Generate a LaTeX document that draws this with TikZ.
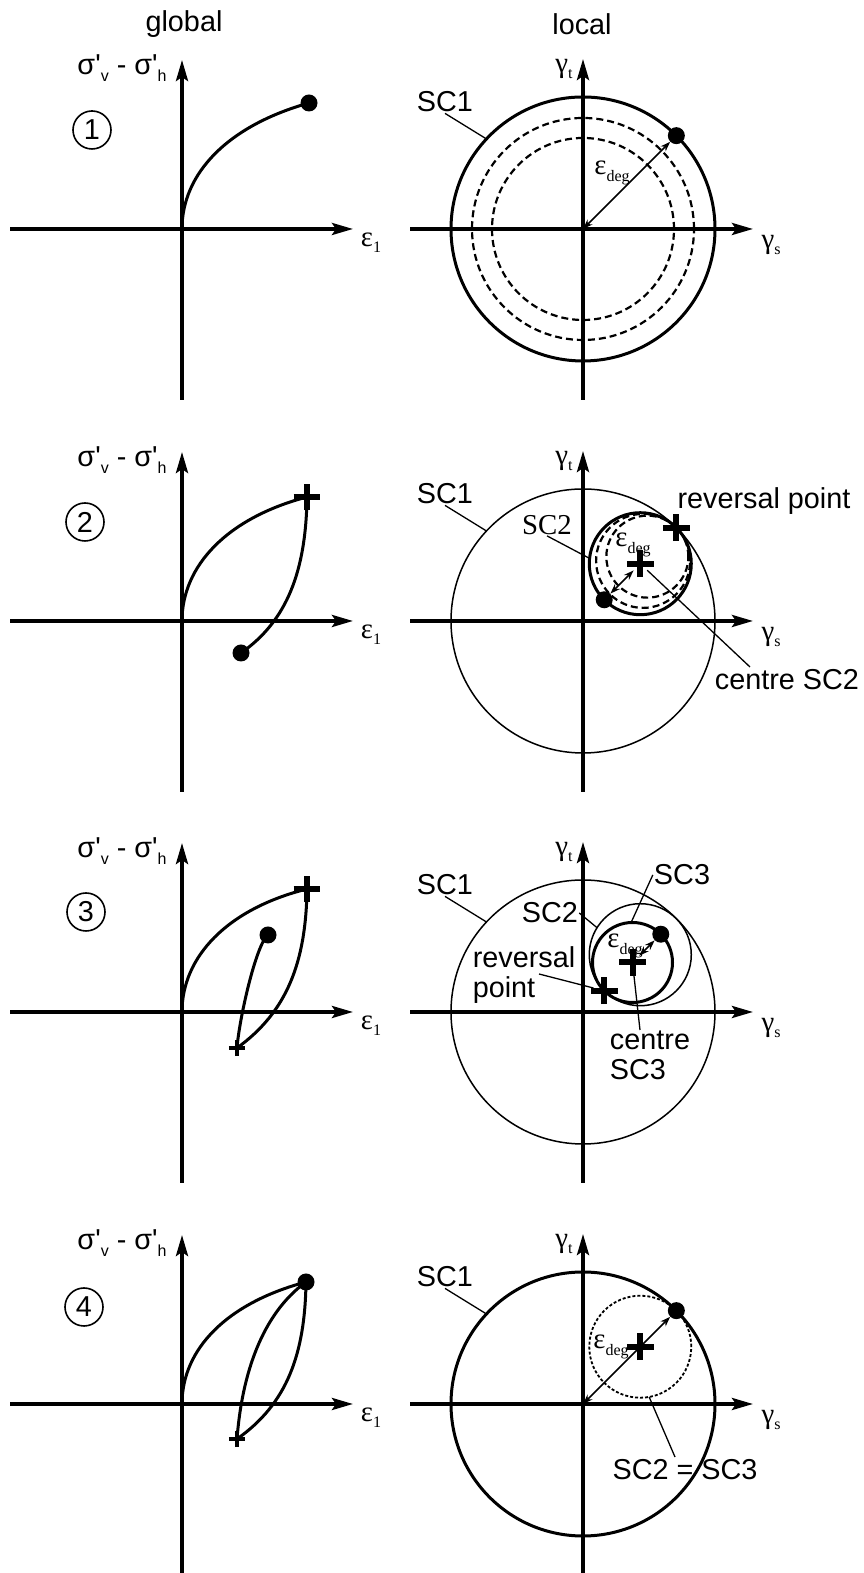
\documentclass[tikz,border=0pt]{standalone}
\usepackage{fontspec}
\setmainfont{Liberation Sans}
\newfontfamily\serifgr{Liberation Serif}
\newfontfamily\plainsans{Liberation Sans}
\usetikzlibrary{arrows.meta,shapes.misc}

\newcommand{\lowsub}[1]{\raisebox{-0.22em}{\fontsize{16}{16}\selectfont #1}}

\begin{document}
\begin{tikzpicture}[
    x=1pt, y=1pt,
    lbl/.style={font=\fontsize{28.8}{30}\selectfont, inner sep=1pt},
    sym/.style={font=\fontsize{28.8}{30}\selectfont\serifgr, inner sep=1pt},
    axis/.style={line width=3.6pt, -{Stealth[length=21pt, width=12pt, inset=4pt]}},
    curve/.style={line width=3pt},
    circ/.style={line width=1.5pt},
    boldcirc/.style={line width=3pt},
    dashc/.style={line width=2.2pt, dash pattern=on 7pt off 4pt},
    dotc/.style={line width=1.8pt, dash pattern=on 3pt off 2pt},
    leader/.style={line width=1.3pt},
    degarrow/.style={line width=1.7pt, >={Stealth[length=10pt, width=7pt]}, <->},
    statedot/.style={circle, fill, inner sep=0pt, minimum size=17pt},
    revcross/.style={cross out, draw, rotate=45, line width=6pt, minimum size=13pt, inner sep=0pt},
    smallcross/.style={cross out, draw, rotate=45, line width=4pt, minimum size=7.5pt, inner sep=0pt},
    num/.style={draw, circle, line width=1.6pt, minimum size=38pt, inner sep=0pt, font=\fontsize{28.8}{30}\selectfont}
]
\useasboundingbox (0,0) rectangle (864,1573);

% Column heads
\node[lbl] (global) at (184,1549) {global};
\node[lbl] (local) at (582,1549) {local};

% Step 1: first loading
\begin{scope}[shift={(182,1344)}]
\draw[axis] (-172,0) -- (171,0);
\draw[axis] (0,-171) -- (0,169);
\node[lbl] (sigA) at (-60,161) {\plainsans σ'\lowsub{v} - σ'\lowsub{h}};
\node[sym] (epsA) at (189,-14) {ε\lowsub{1}};
\node[num] (numA) at (-90,99) {1};
\coordinate (oA) at (0,0);
\node[statedot] (dotA) at (127,126) {};
\draw[curve] (oA) .. controls (0,55) and (45,103) .. (dotA.center);
\end{scope}

\begin{scope}[shift={(583,1344)}]
\draw[axis] (-173,0) -- (170,0);
\draw[axis] (0,-171) -- (0,170);
\node[sym] (gtA) at (-19,160) {γ\lowsub{t}};
\node[sym] (gsA) at (188,-16) {γ\lowsub{s}};
\draw[dashc] (0,0) circle (91);
\draw[dashc] (0,0) circle (111);
\draw[boldcirc] (0,0) circle (132);
\coordinate (ocA) at (0,0);
\node[statedot] (sdA) at (45:132) {};
\draw[degarrow] (sdA) -- (ocA);
\node[sym] (degA) at (29,56) {ε\lowsub{deg}};
\node[lbl] (scA) at (-138,127) {SC1};
\coordinate (scAend) at (137:132);
\draw[leader] (scA.south) -- (scAend);
\end{scope}

% Step 2: unloading after reversal
\begin{scope}[shift={(182,952)}]
\draw[axis] (-172,0) -- (171,0);
\draw[axis] (0,-171) -- (0,169);
\node[lbl] (sigB) at (-60,161) {\plainsans σ'\lowsub{v} - σ'\lowsub{h}};
\node[sym] (epsB) at (189,-14) {ε\lowsub{1}};
\node[num] (numB) at (-97,99) {2};
\coordinate (oB) at (0,0);
\node[revcross] (rpB) at (125,124) {};
\node[statedot] (dotB) at (59,-32) {};
\draw[curve] (oB) .. controls (0,55) and (45,103) .. (rpB.center);
\draw[curve] (rpB.center) .. controls (124,50) and (105,0) .. (dotB.center);
\end{scope}

\begin{scope}[shift={(583,952)}]
\draw[axis] (-173,0) -- (170,0);
\draw[axis] (0,-171) -- (0,170);
\node[sym] (gtB) at (-19,160) {γ\lowsub{t}};
\node[sym] (gsB) at (188,-16) {γ\lowsub{s}};
\draw[circ] (0,0) circle (132);
\draw[dashc] (45:85) circle (47);
\draw[dashc] (45:91) circle (41);
\draw[boldcirc] (45:81) circle (51);
\node[revcross] (rvB) at (45:132) {};
\node[revcross] (cnB) at (45:81) {};
\node[statedot] (sdB) at (45:30) {};
\draw[degarrow] (sdB) -- (cnB);
\node[sym] (degB) at (50,76) {ε\lowsub{deg}};
\node[lbl] (scB) at (-138,127) {SC1};
\coordinate (scBend) at (137:132);
\draw[leader] (scB.south) -- (scBend);
\node[sym] (sc2B) at (-36,96) {SC2};
\path (45:81) ++(174:51) coordinate (sc2Bend);
\draw[leader] (sc2B.south) -- (sc2Bend);
\node[lbl] (rvlblB) at (181,120) {reversal point};
\node[lbl] (cnlblB) at (204,-59) {centre SC2};
\coordinate (cnBend) at (167,-46);
\draw[leader] (cnB) -- (cnBend);
\end{scope}

% Step 3: reloading after second reversal
\begin{scope}[shift={(182,561)}]
\draw[axis] (-172,0) -- (171,0);
\draw[axis] (0,-171) -- (0,169);
\node[lbl] (sigC) at (-60,161) {\plainsans σ'\lowsub{v} - σ'\lowsub{h}};
\node[sym] (epsC) at (189,-14) {ε\lowsub{1}};
\node[num] (numC) at (-96,100) {3};
\coordinate (oC) at (0,0);
\node[revcross] (rpC) at (125,123) {};
\node[smallcross] (rqC) at (55,-36) {};
\node[statedot] (dotC) at (86,77) {};
\draw[curve] (oC) .. controls (0,55) and (45,103) .. (rpC.center);
\draw[curve] (rpC.center) .. controls (124,50) and (105,0) .. (rqC.center);
\draw[curve] (rqC.center) .. controls (57,-8) and (74,68) .. (dotC.center);
\end{scope}

\begin{scope}[shift={(583,561)}]
\draw[axis] (-173,0) -- (170,0);
\draw[axis] (0,-171) -- (0,170);
\node[sym] (gtC) at (-19,160) {γ\lowsub{t}};
\node[sym] (gsC) at (188,-16) {γ\lowsub{s}};
\draw[circ] (0,0) circle (132);
\draw[circ] (45:81) circle (51);
\draw[boldcirc] (45:70) circle (40);
\node[revcross] (rvC) at (45:30) {};
\node[revcross] (cnC) at (45:70) {};
\node[statedot] (sdC) at (45:110) {};
\draw[degarrow] (sdC) -- (cnC);
\node[sym] (degC) at (42,66) {ε\lowsub{deg}};
\node[lbl] (scC) at (-138,127) {SC1};
\coordinate (scCend) at (137:132);
\draw[leader] (scC.south) -- (scCend);
\node[lbl] (sc2C) at (-33,99) {SC2};
\path (45:81) ++(148:51) coordinate (sc2Cend);
\draw[leader] (sc2C.east) -- (sc2Cend);
\node[lbl] (sc3C) at (99,137) {SC3};
\path (45:70) ++(92:40) coordinate (sc3Cend);
\draw[leader] (sc3C.west) -- (sc3Cend);
\node[lbl, align=left] (rvlblC) at (-59,37) {reversal\\point};
\coordinate (rvlblCend) at (-44,38);
\draw[leader] (rvlblCend) -- (rvC);
\node[lbl, align=left] (cnlblC) at (67,-43) {centre\\SC3};
\coordinate (cnCend) at (57,-18);
\draw[leader] (cnC) -- (cnCend);
\end{scope}

% Step 4: back at the reversal point
\begin{scope}[shift={(182,169)}]
\draw[axis] (-172,0) -- (171,0);
\draw[axis] (0,-171) -- (0,169);
\node[lbl] (sigD) at (-60,161) {\plainsans σ'\lowsub{v} - σ'\lowsub{h}};
\node[sym] (epsD) at (189,-14) {ε\lowsub{1}};
\node[num] (numD) at (-98,97) {4};
\coordinate (oD) at (0,0);
\node[statedot] (dotD) at (124,122) {};
\node[smallcross] (rqD) at (55,-35) {};
\draw[curve] (oD) .. controls (0,55) and (45,101) .. (dotD.center);
\draw[curve] (dotD.center) .. controls (123,50) and (105,0) .. (rqD.center);
\draw[curve] (rqD.center) .. controls (60,30) and (80,90) .. (dotD.center);
\end{scope}

\begin{scope}[shift={(583,169)}]
\draw[axis] (-173,0) -- (170,0);
\draw[axis] (0,-171) -- (0,170);
\node[sym] (gtD) at (-19,160) {γ\lowsub{t}};
\node[sym] (gsD) at (188,-16) {γ\lowsub{s}};
\draw[boldcirc] (0,0) circle (132);
\draw[dotc] (45:81) circle (51);
\coordinate (ocD) at (0,0);
\node[statedot] (sdD) at (45:132) {};
\draw[degarrow] (sdD) -- (ocD);
\node[revcross] (cnD) at (45:81) {};
\node[sym] (degD) at (28,57) {ε\lowsub{deg}};
\node[lbl] (scD) at (-138,127) {SC1};
\coordinate (scDend) at (137:132);
\draw[leader] (scD.south) -- (scDend);
\node[lbl] (sc23D) at (102,-66) {SC2 = SC3};
\path (45:81) ++(-80:51) coordinate (sc23Dend);
\coordinate (sc23Dtip) at (92,-53);
\draw[leader] (sc23Dend) -- (sc23Dtip);
\end{scope}
\end{tikzpicture}
\end{document}
